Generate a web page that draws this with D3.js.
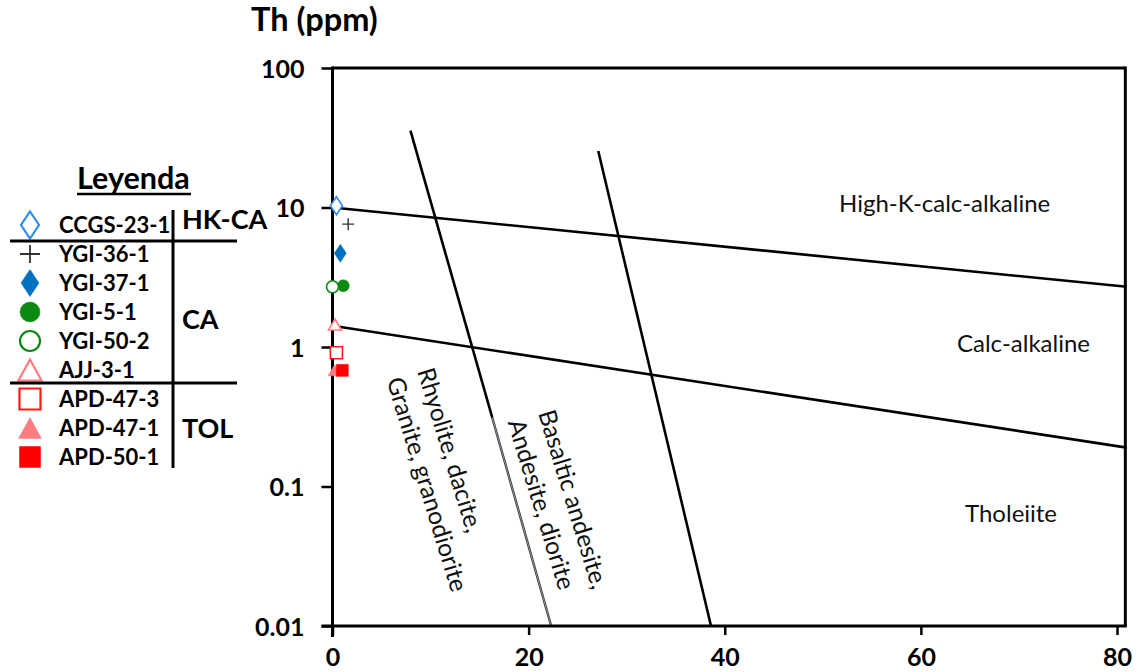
<!DOCTYPE html>
<html>
<head>
<meta charset="utf-8">
<script src="https://cdn.jsdelivr.net/npm/d3@7/dist/d3.min.js"></script>
<style>
  html, body { margin: 0; padding: 0; background: #fff; }
  svg { display: block; font-family: Lato, "Open Sans", sans-serif; }
</style>
</head>
<body>
<svg id="chart" width="1142" height="672"></svg>
<script>
// ---- Data ----------------------------------------------------------
const sampleNames = ["CCGS-23-1", "YGI-36-1", "YGI-37-1", "YGI-5-1", "YGI-50-2",
                     "AJJ-3-1", "APD-47-3", "APD-47-1", "APD-50-1"];
const sampleX  = [0.4, 1.6, 0.8, 1.1, 0.0, 0.25, 0.4, 0.2, 1.0];
const sampleTh = [10.3, 7.6, 4.7, 2.75, 2.7, 1.45, 0.91, 0.68, 0.68];
const sampleSymbol = ["diamond", "plus", "diamond", "circle", "circle",
                      "triangle", "square", "triangle", "square"];
const sampleFilled = [false, false, true, true, false, false, false, true, true];
const sampleColor  = ["#2f8cf5", "#333333", "#0070c0", "#0b8a12", "#0b8a12",
                      "#ff7c80", "#ff1a1a", "#ff7c80", "#ff0000"];

const xTicks = [0, 20, 40, 60, 80];
const yTicks = [0.01, 0.1, 1, 10, 100];
const yTickLabels = ["0.01", "0.1", "1", "10", "100"];

// Discrimination boundaries, [x, Th] vertices
const hkcaBoundary = [[0, 10], [81, 2.7]];
const tholBoundary = [[0, 1.42], [81, 0.19]];
const felsicBoundary = [[7.95, 35.6], [16.3, 0.31]];
const felsicBoundaryLower = [[16.3, 0.31], [22.3, 0.01]];
const maficBoundary = [[27.1, 25.4], [38.6, 0.01]];

const groupNames = ["HK-CA", "CA", "TOL"];

// ---- Scales --------------------------------------------------------
const svg = d3.select("#chart");
const x = d3.scaleLinear().domain([0, 80]).range([332.5, 1117]);
const y = d3.scaleLog().domain([0.01, 100]).range([626, 68]);
const xFrameMax = 80.85;

const line = d3.line().x(d => x(d[0])).y(d => y(d[1]));

// ---- Marker shapes -------------------------------------------------
function markerPath(type, w, h) {
  const p = d3.path();
  const a = w / 2, b = h / 2;
  if (type === "diamond") {
    p.moveTo(0, -b); p.lineTo(a, 0); p.lineTo(0, b); p.lineTo(-a, 0); p.closePath();
  } else if (type === "square") {
    p.rect(-a, -b, w, h);
  } else if (type === "triangle") {
    p.moveTo(0, -b); p.lineTo(a, b); p.lineTo(-a, b); p.closePath();
  } else if (type === "circle") {
    p.arc(0, 0, a, 0, 2 * Math.PI);
  } else if (type === "plus") {
    p.moveTo(-a, 0); p.lineTo(a, 0); p.moveTo(0, -b); p.lineTo(0, b);
  }
  return p.toString();
}
const plotSize = {diamond: [12, 18], plus: [12, 12], circle: [12, 12],
                  triangle: [13, 11], square: [12, 12]};
const legendSize = {diamond: [18, 27], plus: [20, 18], circle: [20, 20],
                    triangle: [23, 21], square: [21, 21]};

// ---- Boundaries ----------------------------------------------------
const bounds = svg.append("g").attr("fill", "none").attr("stroke", "#000");
[hkcaBoundary, tholBoundary, felsicBoundary, maficBoundary].forEach(b => {
  bounds.append("path").attr("d", line(b)).attr("stroke-width", 2.6);
});
bounds.append("path").attr("d", line(felsicBoundaryLower))
  .attr("stroke", "#333").attr("stroke-width", 2.4);
bounds.append("path").attr("d", line(felsicBoundaryLower))
  .attr("stroke", "#bbb").attr("stroke-width", 0.7);

// ---- Frame and axes ------------------------------------------------
const frame = svg.append("g").attr("stroke", "#000").attr("stroke-width", 3).attr("fill", "none");
frame.append("line").attr("x1", x(0)).attr("x2", x(xFrameMax)).attr("y1", y(100)).attr("y2", y(100));
frame.append("line").attr("x1", x(xFrameMax)).attr("x2", x(xFrameMax)).attr("y1", y(100) - 1.5).attr("y2", y(0.01));
frame.append("line").attr("x1", x(0) - 11).attr("x2", x(xFrameMax) + 1.5).attr("y1", y(0.01)).attr("y2", y(0.01));
frame.append("line").attr("x1", x(0)).attr("x2", x(0)).attr("y1", y(100) - 1.5).attr("y2", y(0.01) + 11);

const yAxis = svg.append("g")
  .attr("transform", `translate(${x(0)},0)`)
  .call(d3.axisLeft(y).tickValues(yTicks)
        .tickFormat((d, i) => yTickLabels[i]).tickSize(11).tickPadding(17).tickSizeOuter(0));
yAxis.select(".domain").remove();
yAxis.selectAll(".tick line").attr("stroke", "#000").attr("stroke-width", 2.5);
yAxis.selectAll(".tick text").attr("font-size", 25).attr("font-weight", 700)
  .attr("font-family", "Lato").attr("fill", "#000").attr("dy", "0.36em");

const xAxis = svg.append("g")
  .attr("transform", `translate(0,${y(0.01)})`)
  .call(d3.axisBottom(x).tickValues(xTicks).tickSize(9).tickPadding(13).tickSizeOuter(0));
xAxis.select(".domain").remove();
xAxis.selectAll(".tick line").attr("stroke", "#000").attr("stroke-width", 2.5);
xAxis.selectAll(".tick text").attr("font-size", 25).attr("font-weight", 700)
  .attr("font-family", "Lato").attr("fill", "#000");

svg.append("text").attr("x", 251).attr("y", 31)
  .attr("font-size", 32.5).attr("font-weight", 700).text("Th (ppm)");

// ---- Field labels --------------------------------------------------
const fields = svg.append("g").attr("font-size", 24).attr("fill", "#111");
fields.append("text").attr("x", 839).attr("y", 212).text("High-K-calc-alkaline");
fields.append("text").attr("x", 957).attr("y", 352).text("Calc-alkaline");
fields.append("text").attr("x", 965).attr("y", 522).text("Tholeiite");

function rotatedLabel(px, py, lines) {
  const g = fields.append("g").attr("transform", `translate(${px},${py}) rotate(73)`)
    .attr("font-size", 24.5);
  lines.forEach((t, i) => g.append("text").attr("x", 0).attr("y", i * 32).text(t));
}
rotatedLabel(417, 371, ["Rhyolite, dacite,", "Granite, granodiorite"]);
rotatedLabel(538, 413, ["Basaltic andesite,", "Andesite, diorite"]);

// ---- Samples -------------------------------------------------------
svg.append("g").selectAll("path")
  .data(sampleNames.map((n, i) => i))
  .join("path")
  .attr("transform", i => `translate(${x(sampleX[i])},${y(sampleTh[i])})`)
  .attr("d", i => markerPath(sampleSymbol[i], ...plotSize[sampleSymbol[i]]))
  .attr("fill", i => sampleSymbol[i] === "plus" ? "none" : (sampleFilled[i] ? sampleColor[i] : "#fff"))
  .attr("stroke", i => sampleColor[i])
  .attr("stroke-width", i => sampleSymbol[i] === "plus" ? 1.4 : (sampleFilled[i] ? 0.5 : 1.6));

// ---- Legend --------------------------------------------------------
const legend = svg.append("g");
legend.append("text").attr("x", 77).attr("y", 189)
  .attr("font-size", 30.5).attr("font-weight", 700).text("Leyenda");
legend.append("line").attr("x1", 77).attr("x2", 191).attr("y1", 194).attr("y2", 194)
  .attr("stroke", "#000").attr("stroke-width", 2.5);

const rowTop = 225, rowStep = 29;
const rows = legend.selectAll("g.row")
  .data(sampleNames.map((n, i) => i))
  .join("g").attr("class", "row")
  .attr("transform", i => `translate(30,${rowTop + i * rowStep})`);
rows.append("path")
  .attr("d", i => markerPath(sampleSymbol[i], ...legendSize[sampleSymbol[i]]))
  .attr("fill", i => sampleSymbol[i] === "plus" ? "none" : (sampleFilled[i] ? sampleColor[i] : "#fff"))
  .attr("stroke", i => sampleColor[i])
  .attr("stroke-width", i => sampleSymbol[i] === "plus" ? 1.8 : (sampleFilled[i] ? 0.5 : 2.2));
rows.append("text").attr("x", 29).attr("dy", "0.36em")
  .attr("font-size", 22).attr("font-weight", 700).text(i => sampleNames[i]);

const lg = legend.append("g").attr("stroke", "#000").attr("stroke-width", 3);
lg.append("line").attr("x1", 173).attr("x2", 173).attr("y1", 210).attr("y2", 468);
lg.append("line").attr("x1", 10).attr("x2", 237).attr("y1", 241).attr("y2", 241);
lg.append("line").attr("x1", 10).attr("x2", 237).attr("y1", 383).attr("y2", 383);

const groupY = [219, 319, 428];
legend.selectAll("text.group").data(groupNames).join("text").attr("class", "group")
  .attr("x", 182).attr("y", (d, i) => groupY[i]).attr("dy", "0.36em")
  .attr("font-size", 27).attr("font-weight", 700).text(d => d);
</script>
</body>
</html>
